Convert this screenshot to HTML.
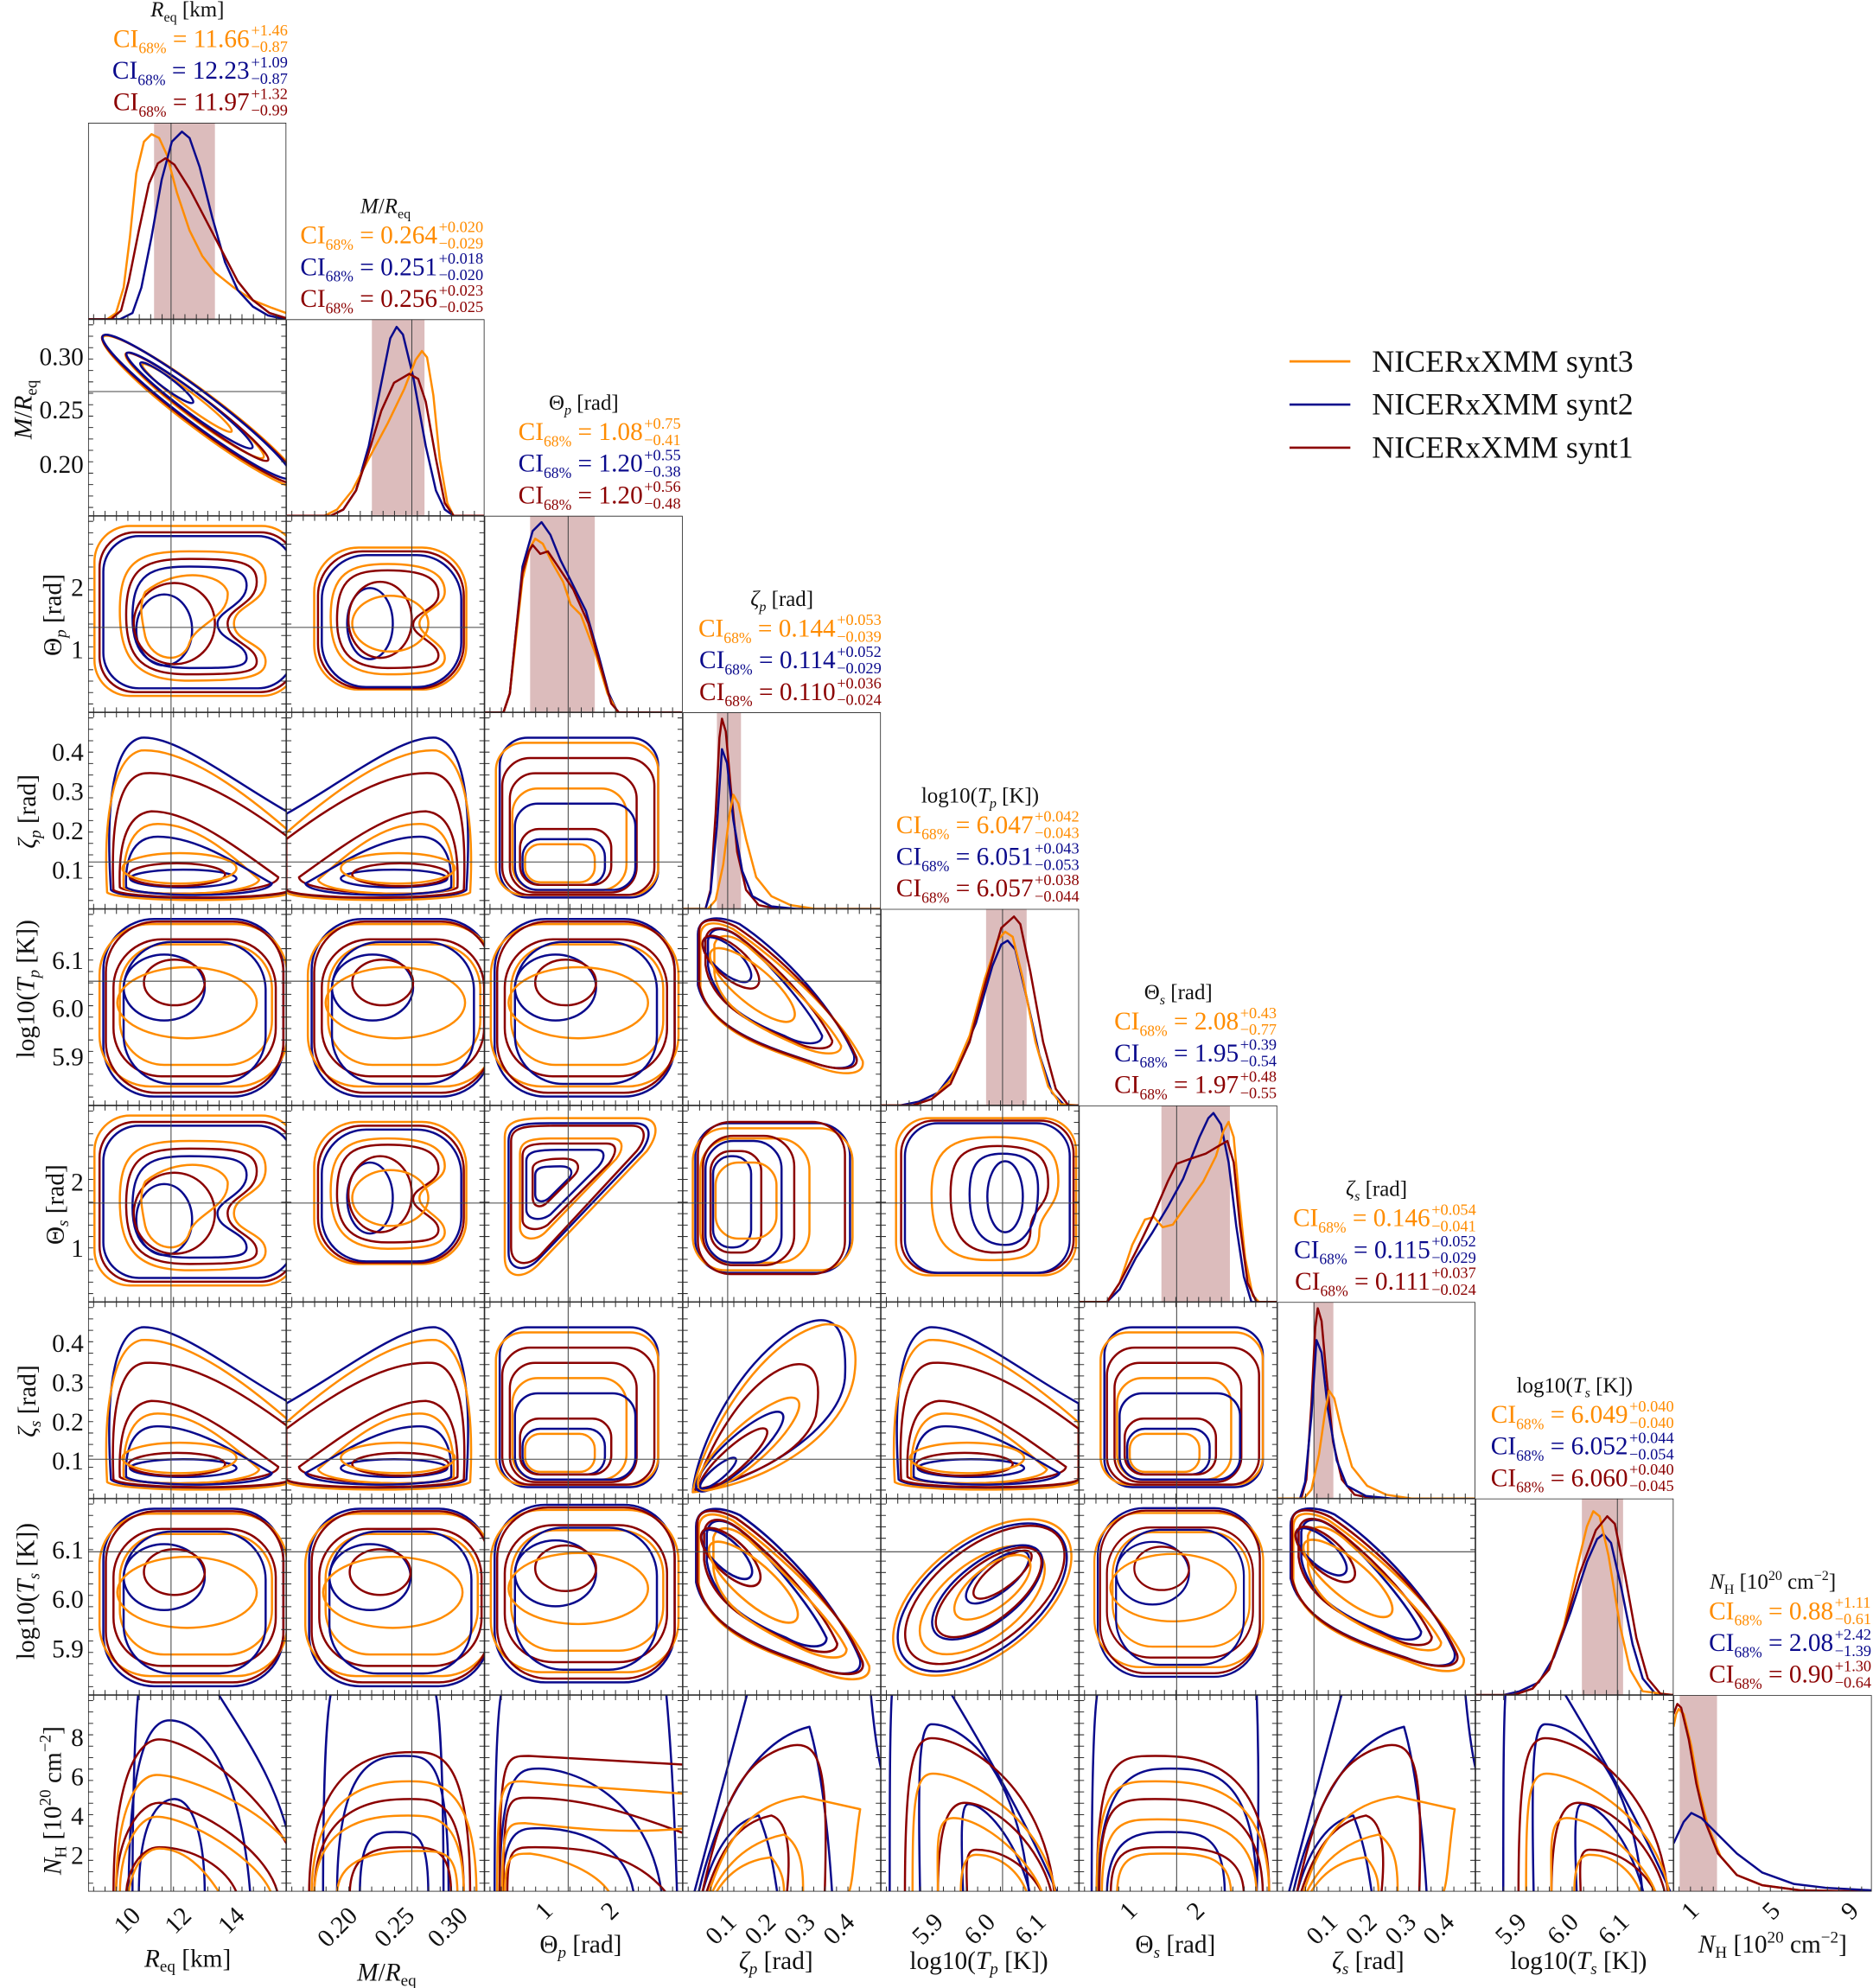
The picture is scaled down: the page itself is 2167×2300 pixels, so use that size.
<!DOCTYPE html>
<html><head><meta charset="utf-8">
<style>
html,body{margin:0;padding:0;background:#fff;}
svg{display:block;}
text{font-family:"Liberation Serif",serif;}
.o,.b,.r{fill:none;stroke-width:1.7;stroke-linejoin:round;}
.o{stroke:#ff8c00}.b{stroke:#0a0a8c}.r{stroke:#8b0000}
.fr{fill:none;stroke:#222;stroke-width:1.1}
.t{stroke:#444;stroke-width:0.7}
.band{fill:#d8b5b5;opacity:0.9}
</style></head><body>
<svg width="2167" height="2300" viewBox="0 0 1477.2 1567.8" xmlns="http://www.w3.org/2000/svg">
<defs>
<g id="tk" stroke="#333" stroke-width="4" stroke-dasharray="0.7 8.3"><line x1="4" y1="153" x2="156" y2="153"/><line x1="4" y1="2" x2="156" y2="2"/><line x1="2" y1="4" x2="2" y2="155"/><line x1="154.3" y1="4" x2="154.3" y2="155"/></g>
<g id="tkb" stroke="#333" stroke-width="4" stroke-dasharray="0.7 8.3"><line x1="4" y1="153" x2="156" y2="153"/></g>
<g id="bean">
<rect class="o" x="5" y="8" width="160" height="134" rx="28"/>
<rect class="r" x="9" y="13" width="155" height="126" rx="28"/>
<rect class="b" x="12" y="16" width="150" height="120" rx="28"/>
<path class="o" d="M25,75 C25,35 40,28 80,28 C120,28 140,30 140,50 C140,70 115,70 115,85 C115,100 140,100 140,115 C140,128 120,130 80,130 C40,130 25,115 25,75Z"/>
<path class="r" d="M30,78 C30,40 45,34 80,34 C118,34 133,36 133,52 C133,70 110,72 110,85 C110,100 133,102 133,115 C133,124 118,125 80,125 C45,125 30,115 30,78Z"/>
<path class="b" d="M35,80 C35,45 50,40 80,40 C112,40 125,42 125,55 C125,70 102,75 102,85 C102,98 125,100 125,112 C125,120 112,120 80,120 C50,120 35,112 35,80Z"/>
<ellipse class="b" cx="60" cy="90" rx="22" ry="28"/>
<ellipse class="r" cx="68" cy="85" rx="32" ry="32"/>
<path class="o" d="M45,60 C70,40 105,45 110,60 C112,80 85,85 80,100 C75,118 50,115 45,95 C42,80 40,70 45,60Z"/>
</g>
<g id="bean2">
<rect class="o" x="22" y="25" width="120" height="112" rx="35"/>
<rect class="r" x="25" y="28" width="115" height="108" rx="35"/>
<rect class="b" x="28" y="31" width="110" height="104" rx="35"/>
<path class="o" d="M35,80 C35,45 50,38 80,38 C110,38 125,45 125,60 C125,72 105,75 105,85 C105,95 125,100 125,112 C125,122 110,125 80,125 C50,125 35,112 35,80Z"/>
<path class="r" d="M40,82 C40,48 54,43 80,43 C106,43 120,48 120,62 C120,74 100,76 100,86 C100,95 120,100 120,110 C120,119 106,120 80,120 C54,120 40,110 40,82Z"/>
<ellipse class="b" cx="66" cy="85" rx="18" ry="28"/>
<ellipse class="r" cx="74" cy="82" rx="25" ry="30"/>
<ellipse class="o" cx="82" cy="85" rx="30" ry="22"/>
</g>
<g id="box">
<rect class="b" x="12" y="8" width="142" height="140" rx="40"/>
<rect class="o" x="9" y="12" width="148" height="128" rx="40"/>
<rect class="r" x="14" y="10" width="140" height="135" rx="40"/>
<rect class="o" x="25" y="28" width="120" height="95" rx="35"/>
<rect class="r" x="20" y="24" width="128" height="108" rx="38"/>
<rect class="b" x="28" y="26" width="112" height="112" rx="38"/>
<ellipse class="b" cx="60" cy="62" rx="32" ry="26"/>
<ellipse class="r" cx="68" cy="58" rx="24" ry="18"/>
<ellipse class="o" cx="78" cy="74" rx="55" ry="28"/>
</g>
<g id="tri">
<path class="b" d="M18,140 C14,80 18,25 42,20 C70,18 115,55 160,80 L160,140 C150,150 28,150 18,140Z"/>
<path class="o" d="M15,142 C12,90 18,35 42,30 C75,28 120,60 160,95 L160,142 C150,150 25,150 15,142Z"/>
<path class="r" d="M20,140 C18,95 22,50 45,48 C80,46 120,70 160,100 L160,140 C150,148 30,148 20,140Z"/>
<path class="r" d="M25,138 C24,110 28,80 50,78 C80,78 115,105 150,130 C148,145 35,146 25,138Z"/>
<path class="o" d="M28,138 C27,115 32,88 55,88 C85,88 110,110 135,132 C130,145 38,146 28,138Z"/>
<path class="b" d="M30,138 C29,118 34,98 55,98 C85,98 115,118 145,135 C140,147 40,146 30,138Z"/>
<ellipse class="b" cx="75" cy="131" rx="42" ry="7"/>
<ellipse class="r" cx="70" cy="128" rx="38" ry="9"/>
<ellipse class="o" cx="72" cy="123" rx="45" ry="12"/>
</g>
<g id="tri2">
<rect class="b" x="12" y="20" width="125" height="126" rx="22"/>
<rect class="o" x="9" y="24" width="128" height="120" rx="22"/>
<rect class="r" x="14" y="36" width="120" height="108" rx="22"/>
<rect class="r" x="20" y="48" width="100" height="94" rx="20"/>
<rect class="o" x="22" y="60" width="90" height="80" rx="20"/>
<rect class="b" x="24" y="72" width="95" height="68" rx="18"/>
<rect class="b" x="30" y="100" width="65" height="36" rx="14"/>
<rect class="r" x="28" y="92" width="72" height="44" rx="15"/>
<rect class="o" x="32" y="104" width="55" height="30" rx="12"/>
</g>
<g id="diag">
<path class="b" d="M12,20 C12,5 30,5 45,12 C80,35 120,80 135,115 C138,128 120,128 100,120 C70,110 20,95 12,60Z"/>
<path class="o" d="M14,22 C14,8 28,10 40,16 C75,40 125,85 142,120 C144,132 125,132 105,124 C75,112 22,100 14,62Z"/>
<path class="r" d="M13,18 C13,6 28,7 42,14 C78,38 122,82 137,117 C140,128 122,128 102,121 C72,111 21,97 13,60Z"/>
<path class="b" d="M20,25 C22,12 35,14 48,25 C75,50 100,80 110,100 C110,108 95,108 80,100 C55,90 25,75 20,45Z"/>
<path class="r" d="M18,24 C20,12 33,13 46,23 C78,48 108,82 118,104 C118,112 102,112 86,104 C58,92 22,76 18,44Z"/>
<path class="o" d="M25,28 C28,18 40,20 52,30 C80,55 115,88 125,108 C125,116 110,116 92,108 C65,96 28,80 25,50Z"/>
<ellipse class="b" cx="35" cy="40" rx="24" ry="10" transform="rotate(42 35 40)"/>
<ellipse class="r" cx="38" cy="42" rx="28" ry="12" transform="rotate(42 38 42)"/>
<ellipse class="o" cx="55" cy="60" rx="42" ry="14" transform="rotate(40 55 60)"/>
</g>
<g id="fan">
<path class="b" d="M8,160 L52,-5 M148,-5 C152,40 156,60 160,70"/>
<path class="b" d="M12,158 C30,80 60,35 100,25 C110,60 115,110 118,158"/>
<path class="b" d="M15,158 C25,120 40,100 60,95 C70,120 72,140 75,158"/>
<path class="r" d="M15,158 C30,90 45,50 85,40 C110,35 115,60 112,158"/>
<path class="r" d="M18,158 C30,120 45,100 70,95 C85,100 85,130 82,158"/>
<path class="o" d="M20,158 C35,110 55,85 95,80 L140,90 C135,120 135,150 130,158"/>
<path class="o" d="M22,158 C35,130 55,115 80,110 C95,120 95,140 95,158"/>
<path class="o" d="M25,158 C35,140 50,130 70,128 C80,140 80,150 80,158"/>
</g>
<g id="nhT">
<path class="b" d="M22,160 C22,80 22,20 24,-5 M68,-5 C95,40 130,100 155,158"/>
<path class="b" d="M46,158 C44,60 45,23 55,23 C80,23 124,58 132,158"/>
<path class="b" d="M80,158 C78,110 78,86 84,86 C100,86 125,121 133,158"/>
<path class="r" d="M34,158 C34,59 40,34 55,34 C80,34 144,69 152,158"/>
<path class="r" d="M60,158 C60,110 66,85 81,85 C106,85 142,120 150,158"/>
<path class="r" d="M83,158 C83,140 80,122 90,122 C115,122 135,140 143,158"/>
<path class="o" d="M40,158 C40,87 41,62 56,62 C81,62 145,97 153,158"/>
<path class="o" d="M60,158 C60,122 57,97 72,97 C97,97 135,132 143,158"/>
<path class="o" d="M78,158 C78,140 80,126 90,126 C110,126 125,140 131,158"/>
</g>
</defs>

<!-- ===== DIAGONAL PANELS ===== -->
<svg x="69.5" y="96.8" width="156.3" height="155" viewBox="0 0 156.3 155">
<rect class="band" x="52" y="0" width="48" height="155"/>
<line class="t" x1="65.4" y1="0" x2="65.4" y2="155"/>
<polyline class="o" points="0,155 15,155 22,150 28,130 33,90 38,40 44,15 50,9 56,12 62,25 70,55 80,85 90,105 100,118 115,130 130,140 145,146 156,150"/>
<polyline class="b" points="0,155 25,155 35,150 42,130 50,90 58,45 66,15 74,7 80,12 88,35 98,75 108,110 118,132 130,145 142,152 156,155"/>
<polyline class="r" points="0,155 18,155 26,148 32,125 40,85 48,48 55,32 61,28 68,33 80,52 92,75 105,100 118,125 130,140 143,150 156,154"/>
<use href="#tkb"/><rect class="fr" width="156.3" height="155"/></svg>
<svg x="225.8" y="251.8" width="156.3" height="155" viewBox="0 0 156.3 155">
<rect class="band" x="67.5" y="0" width="41.5" height="155"/>
<line class="t" x1="99" y1="0" x2="99" y2="155"/>
<polyline class="b" points="0,155 35,155 45,150 55,135 65,100 75,50 82,15 87,6 92,12 100,45 110,100 118,135 125,150 132,155 156,155"/>
<polyline class="o" points="0,155 30,155 40,150 52,135 65,110 80,82 93,55 102,32 107,25 111,30 116,60 121,110 127,145 132,155 156,155"/>
<polyline class="r" points="0,155 35,155 45,150 55,135 65,105 75,72 85,50 97,43 104,47 110,65 118,110 125,145 132,155 156,155"/>
<use href="#tkb"/><rect class="fr" width="156.3" height="155"/></svg>
<svg x="382.1" y="406.8" width="156.3" height="155" viewBox="0 0 156.3 155">
<rect class="band" x="36" y="0" width="51" height="155"/>
<line class="t" x1="66" y1="0" x2="66" y2="155"/>
<polyline class="b" points="0,155 15,155 20,140 25,90 30,40 38,12 45,5 52,15 60,35 70,55 80,75 90,110 98,140 105,155 156,155"/>
<polyline class="o" points="0,155 15,155 20,140 25,95 30,50 36,25 40,18 46,22 54,38 62,52 68,70 76,78 88,110 97,140 105,155 156,155"/>
<polyline class="r" points="0,155 15,155 20,140 25,90 30,45 35,28 38,23 44,30 50,28 58,40 70,58 82,85 92,120 100,148 106,155 156,155"/>
<use href="#tkb"/><rect class="fr" width="156.3" height="155"/></svg>
<svg x="538.4" y="561.8" width="156.3" height="155" viewBox="0 0 156.3 155">
<rect class="band" x="27" y="0" width="19" height="155"/>
<line class="t" x1="35.5" y1="0" x2="35.5" y2="155"/>
<polyline class="r" points="0,155 18,155 22,140 26,80 29,20 31,5 34,15 38,60 43,110 50,140 60,152 75,155 156,155"/>
<polyline class="b" points="0,155 18,155 22,142 27,90 31,29 35,40 40,85 47,125 55,145 70,153 90,155 156,155"/>
<polyline class="o" points="0,155 20,155 26,148 32,120 37,80 40,65 44,72 50,100 58,130 70,145 85,152 105,155 156,155"/>
<use href="#tkb"/><rect class="fr" width="156.3" height="155"/></svg>
<svg x="694.7" y="716.8" width="156.3" height="155" viewBox="0 0 156.3 155">
<rect class="band" x="83" y="0" width="32" height="155"/>
<line class="t" x1="96" y1="0" x2="96" y2="155"/>
<polyline class="b" points="0,155 15,155 30,152 45,145 60,125 75,90 88,45 95,28 100,25 106,32 115,70 125,115 135,145 145,155 156,155"/>
<polyline class="o" points="0,155 25,155 40,150 55,135 70,100 82,55 92,25 98,18 104,22 112,55 122,105 132,140 142,154 156,155"/>
<polyline class="r" points="0,155 25,155 40,150 55,138 70,105 82,60 95,15 105,6 110,12 118,50 128,105 138,142 148,155 156,155"/>
<use href="#tkb"/><rect class="fr" width="156.3" height="155"/></svg>
<svg x="851.0" y="871.8" width="156.3" height="155" viewBox="0 0 156.3 155">
<rect class="band" x="65" y="0" width="54" height="155"/>
<line class="t" x1="77" y1="0" x2="77" y2="155"/>
<polyline class="b" points="0,155 22,155 32,145 45,120 58,100 70,80 82,58 95,25 102,10 106,6 112,15 118,45 124,95 130,135 136,155 156,155"/>
<polyline class="o" points="0,155 22,155 32,140 42,110 52,90 59,88 66,96 74,94 85,78 98,60 108,40 114,20 118,13 122,25 126,70 131,120 137,150 142,155 156,155"/>
<polyline class="r" points="0,155 22,155 32,140 45,115 58,88 70,60 77,46 88,42 100,38 110,32 117,28 122,45 127,95 133,140 140,155 156,155"/>
<use href="#tkb"/><rect class="fr" width="156.3" height="155"/></svg>
<svg x="1007.3" y="1026.8" width="156.3" height="155" viewBox="0 0 156.3 155">
<rect class="band" x="28.6" y="0" width="15.7" height="155"/>
<line class="t" x1="29" y1="0" x2="29" y2="155"/>
<polyline class="r" points="0,155 19,155 23,140 27,80 30,20 32,5 35,15 39,60 44,110 51,140 61,152 76,155 156,155"/>
<polyline class="b" points="0,155 18,155 22,142 27,90 31,30 35,40 40,85 47,125 55,145 70,153 90,155 156,155"/>
<polyline class="o" points="0,155 21,155 27,148 33,120 38,85 41,70 45,76 51,102 59,130 71,145 86,152 106,155 156,155"/>
<use href="#tkb"/><rect class="fr" width="156.3" height="155"/></svg>
<svg x="1163.6" y="1181.8" width="156.3" height="155" viewBox="0 0 156.3 155">
<rect class="band" x="84" y="0" width="32.5" height="155"/>
<line class="t" x1="112" y1="0" x2="112" y2="155"/>
<polyline class="b" points="0,155 22,155 35,152 50,145 62,125 75,90 88,50 96,32 101,28 107,35 115,70 124,115 132,142 142,154 156,155"/>
<polyline class="o" points="0,155 30,155 45,150 58,135 70,100 80,55 88,22 93,10 98,14 105,45 114,100 122,135 132,152 156,155"/>
<polyline class="r" points="0,155 30,155 45,150 58,135 70,102 82,60 95,25 104,14 110,20 118,60 127,110 136,142 146,154 156,155"/>
<use href="#tkb"/><rect class="fr" width="156.3" height="155"/></svg>
<svg x="1319.9" y="1336.8" width="156.3" height="155" viewBox="0 0 156.3 155">
<rect class="band" x="4.8" y="0" width="29.5" height="155"/>
<polyline class="o" points="0,25 2,15 4,11 8,15 14,40 20,75 27,103 37,127 50,142 70,150 100,154 156,155"/>
<polyline class="r" points="0,15 3,7 6,10 12,35 18,70 25,100 35,125 50,142 70,150 100,154 156,155"/>
<polyline class="b" points="0,117 8,100 14,93 22,97 35,110 50,125 70,140 95,149 120,152 156,154"/>
<use href="#tkb"/><rect class="fr" width="156.3" height="155"/></svg>

<!-- ===== 2D PANELS ===== -->
<svg x="69.5" y="251.8" width="156.3" height="155" viewBox="0 0 156.3 155">
<ellipse class="o" cx="90" cy="73" rx="98" ry="14" transform="rotate(37 90 73)"/>
<ellipse class="o" cx="84" cy="68" rx="68" ry="9" transform="rotate(37 84 68)"/>
<ellipse class="o" cx="78" cy="62" rx="44" ry="5.5" transform="rotate(37 78 62)"/>
<ellipse class="r" cx="88" cy="71" rx="96" ry="13" transform="rotate(37 88 71)"/>
<ellipse class="r" cx="86" cy="69" rx="70" ry="8.5" transform="rotate(37 86 69)"/>
<ellipse class="b" cx="86" cy="69" rx="93" ry="12.5" transform="rotate(37 86 69)"/>
<ellipse class="b" cx="80" cy="64" rx="62" ry="8" transform="rotate(37 80 64)"/>
<ellipse class="b" cx="62" cy="50" rx="26" ry="4.5" transform="rotate(37 62 50)"/>
<line class="t" x1="65.4" y1="0" x2="65.4" y2="155"/><line class="t" x1="0" y1="57" x2="156.3" y2="57"/>
<use href="#tk"/><rect class="fr" width="156.3" height="155"/></svg>
<svg x="69.5" y="406.8" width="156.3" height="155" viewBox="0 0 156.3 155"><use href="#bean"/>
<line class="t" x1="65.4" y1="0" x2="65.4" y2="155"/><line class="t" x1="0" y1="88" x2="156.3" y2="88"/><use href="#tk"/><rect class="fr" width="156.3" height="155"/></svg>
<svg x="225.8" y="406.8" width="156.3" height="155" viewBox="0 0 156.3 155"><use href="#bean2"/>
<line class="t" x1="99" y1="0" x2="99" y2="155"/><line class="t" x1="0" y1="88" x2="156.3" y2="88"/><use href="#tk"/><rect class="fr" width="156.3" height="155"/></svg>
<svg x="69.5" y="561.8" width="156.3" height="155" viewBox="0 0 156.3 155"><use href="#tri"/>
<line class="t" x1="65.4" y1="0" x2="65.4" y2="155"/><line class="t" x1="0" y1="118" x2="156.3" y2="118"/><use href="#tk"/><rect class="fr" width="156.3" height="155"/></svg>
<svg x="225.8" y="561.8" width="156.3" height="155" viewBox="0 0 156.3 155"><use href="#tri" transform="translate(160,0) scale(-1,1)"/>
<line class="t" x1="99" y1="0" x2="99" y2="155"/><line class="t" x1="0" y1="118" x2="156.3" y2="118"/><use href="#tk"/><rect class="fr" width="156.3" height="155"/></svg>
<svg x="382.1" y="561.8" width="156.3" height="155" viewBox="0 0 156.3 155"><use href="#tri2"/>
<line class="t" x1="66" y1="0" x2="66" y2="155"/><line class="t" x1="0" y1="118" x2="156.3" y2="118"/><use href="#tk"/><rect class="fr" width="156.3" height="155"/></svg>
<svg x="69.5" y="716.8" width="156.3" height="155" viewBox="0 0 156.3 155"><use href="#box"/>
<line class="t" x1="65.4" y1="0" x2="65.4" y2="155"/><line class="t" x1="0" y1="57" x2="156.3" y2="57"/><use href="#tk"/><rect class="fr" width="156.3" height="155"/></svg>
<svg x="225.8" y="716.8" width="156.3" height="155" viewBox="0 0 156.3 155"><use href="#box" transform="translate(8,0)"/>
<line class="t" x1="99" y1="0" x2="99" y2="155"/><line class="t" x1="0" y1="57" x2="156.3" y2="57"/><use href="#tk"/><rect class="fr" width="156.3" height="155"/></svg>
<svg x="382.1" y="716.8" width="156.3" height="155" viewBox="0 0 156.3 155"><use href="#box" transform="translate(-4,0)"/>
<line class="t" x1="66" y1="0" x2="66" y2="155"/><line class="t" x1="0" y1="57" x2="156.3" y2="57"/><use href="#tk"/><rect class="fr" width="156.3" height="155"/></svg>
<svg x="538.4" y="716.8" width="156.3" height="155" viewBox="0 0 156.3 155"><use href="#diag"/>
<line class="t" x1="35.5" y1="0" x2="35.5" y2="155"/><line class="t" x1="0" y1="57" x2="156.3" y2="57"/><use href="#tk"/><rect class="fr" width="156.3" height="155"/></svg>
<svg x="69.5" y="871.8" width="156.3" height="155" viewBox="0 0 156.3 155"><use href="#bean"/>
<line class="t" x1="65.4" y1="0" x2="65.4" y2="155"/><line class="t" x1="0" y1="77" x2="156.3" y2="77"/><use href="#tk"/><rect class="fr" width="156.3" height="155"/></svg>
<svg x="225.8" y="871.8" width="156.3" height="155" viewBox="0 0 156.3 155"><use href="#bean2" transform="translate(0,-12)"/>
<line class="t" x1="99" y1="0" x2="99" y2="155"/><line class="t" x1="0" y1="77" x2="156.3" y2="77"/><use href="#tk"/><rect class="fr" width="156.3" height="155"/></svg>
<svg x="382.1" y="871.8" width="156.3" height="155" viewBox="0 0 156.3 155">
<path class="o" d="M16,25 C16,12 28,10 50,10 L122,10 C138,10 138,22 128,36 L42,126 C30,138 16,136 16,120Z"/>
<path class="b" d="M19,28 C19,15 30,14 52,14 L118,14 C132,14 132,24 124,36 L42,122 C32,132 19,130 19,116Z"/>
<path class="r" d="M21,28 C21,17 32,16 54,16 L116,16 C128,16 128,26 120,36 L44,118 C34,128 21,126 21,112Z"/>
<path class="o" d="M28,38 C28,26 40,26 60,26 L100,26 C110,26 110,34 104,42 L48,100 C40,108 28,106 28,96Z"/>
<path class="r" d="M30,40 C30,30 40,30 58,30 L96,30 C106,30 104,38 98,46 L50,94 C42,100 30,98 30,90Z"/>
<path class="b" d="M33,44 C33,36 42,35 58,35 L88,35 C96,35 95,42 90,48 L52,86 C44,92 33,90 33,82Z"/>
<path class="b" d="M40,55 C40,48 48,48 60,48 C70,48 70,54 66,58 L52,72 C46,78 40,76 40,70Z"/>
<path class="r" d="M38,50 C38,44 48,42 62,42 C76,42 76,50 70,56 L50,76 C44,82 38,80 38,72Z"/>
<line class="t" x1="66" y1="0" x2="66" y2="155"/><line class="t" x1="0" y1="77" x2="156.3" y2="77"/><use href="#tk"/><rect class="fr" width="156.3" height="155"/></svg>
<svg x="538.4" y="871.8" width="156.3" height="155" viewBox="0 0 156.3 155">
<rect class="b" x="10" y="14" width="122" height="118" rx="26"/>
<rect class="o" x="8" y="18" width="126" height="112" rx="26"/>
<rect class="r" x="12" y="13" width="116" height="120" rx="26"/>
<rect class="o" x="14" y="26" width="86" height="98" rx="25"/>
<rect class="r" x="16" y="24" width="72" height="102" rx="24"/>
<rect class="b" x="18" y="28" width="60" height="96" rx="22"/>
<rect class="b" x="24" y="40" width="30" height="72" rx="14"/>
<rect class="r" x="22" y="36" width="40" height="80" rx="16"/>
<rect class="o" x="26" y="45" width="48" height="60" rx="18"/>
<line class="t" x1="35.5" y1="0" x2="35.5" y2="155"/><line class="t" x1="0" y1="77" x2="156.3" y2="77"/><use href="#tk"/><rect class="fr" width="156.3" height="155"/></svg>
<svg x="694.7" y="871.8" width="156.3" height="155" viewBox="0 0 156.3 155">
<rect class="o" x="12" y="10" width="142" height="124" rx="26"/>
<rect class="r" x="16" y="12" width="136" height="120" rx="26"/>
<rect class="b" x="19" y="14" width="130" height="118" rx="26"/>
<path class="o" d="M40,70 C40,35 55,25 90,25 C130,25 140,35 140,60 C140,80 125,85 125,100 C125,120 110,122 85,122 C55,122 40,110 40,70Z"/>
<path class="r" d="M55,70 C55,40 65,32 92,32 C125,32 132,42 132,62 C132,80 118,82 118,98 C118,114 108,116 90,116 C65,116 55,100 55,70Z"/>
<path class="b" d="M70,70 C70,45 78,38 96,38 C118,38 124,48 124,66 C124,90 116,110 98,110 C78,110 70,95 70,70Z"/>
<ellipse class="b" cx="98" cy="72" rx="14" ry="28"/>
<line class="t" x1="96" y1="0" x2="96" y2="155"/><line class="t" x1="0" y1="77" x2="156.3" y2="77"/><use href="#tk"/><rect class="fr" width="156.3" height="155"/></svg>
<svg x="69.5" y="1026.8" width="156.3" height="155" viewBox="0 0 156.3 155"><use href="#tri"/>
<line class="t" x1="65.4" y1="0" x2="65.4" y2="155"/><line class="t" x1="0" y1="124" x2="156.3" y2="124"/><use href="#tk"/><rect class="fr" width="156.3" height="155"/></svg>
<svg x="225.8" y="1026.8" width="156.3" height="155" viewBox="0 0 156.3 155"><use href="#tri" transform="translate(160,0) scale(-1,1)"/>
<line class="t" x1="99" y1="0" x2="99" y2="155"/><line class="t" x1="0" y1="124" x2="156.3" y2="124"/><use href="#tk"/><rect class="fr" width="156.3" height="155"/></svg>
<svg x="382.1" y="1026.8" width="156.3" height="155" viewBox="0 0 156.3 155"><use href="#tri2"/>
<line class="t" x1="66" y1="0" x2="66" y2="155"/><line class="t" x1="0" y1="124" x2="156.3" y2="124"/><use href="#tk"/><rect class="fr" width="156.3" height="155"/></svg>
<svg x="538.4" y="1026.8" width="156.3" height="155" viewBox="0 0 156.3 155">
<path class="b" d="M8,150 C10,120 40,50 90,20 C120,5 130,20 128,60 C125,100 60,140 8,150Z"/>
<path class="o" d="M8,150 C15,110 60,30 110,18 C130,15 140,30 135,60 C125,110 60,145 8,150Z"/>
<path class="r" d="M10,148 C20,115 50,60 85,50 C105,45 110,60 105,90 C95,120 50,140 10,148Z"/>
<ellipse class="b" cx="45" cy="118" rx="45" ry="12" transform="rotate(-42 45 118)"/>
<ellipse class="r" cx="40" cy="124" rx="35" ry="9" transform="rotate(-42 40 124)"/>
<ellipse class="o" cx="52" cy="112" rx="52" ry="15" transform="rotate(-42 52 112)"/>
<ellipse class="b" cx="28" cy="135" rx="18" ry="5" transform="rotate(-40 28 135)"/>
<line class="t" x1="35.5" y1="0" x2="35.5" y2="155"/><line class="t" x1="0" y1="124" x2="156.3" y2="124"/><use href="#tk"/><rect class="fr" width="156.3" height="155"/></svg>
<svg x="694.7" y="1026.8" width="156.3" height="155" viewBox="0 0 156.3 155"><use href="#tri" transform="translate(-4,0)"/>
<line class="t" x1="96" y1="0" x2="96" y2="155"/><line class="t" x1="0" y1="124" x2="156.3" y2="124"/><use href="#tk"/><rect class="fr" width="156.3" height="155"/></svg>
<svg x="851.0" y="1026.8" width="156.3" height="155" viewBox="0 0 156.3 155"><use href="#tri2" transform="translate(8,0)"/>
<line class="t" x1="77" y1="0" x2="77" y2="155"/><line class="t" x1="0" y1="124" x2="156.3" y2="124"/><use href="#tk"/><rect class="fr" width="156.3" height="155"/></svg>
<svg x="69.5" y="1181.8" width="156.3" height="155" viewBox="0 0 156.3 155"><use href="#box"/>
<line class="t" x1="65.4" y1="0" x2="65.4" y2="155"/><line class="t" x1="0" y1="42" x2="156.3" y2="42"/><use href="#tk"/><rect class="fr" width="156.3" height="155"/></svg>
<svg x="225.8" y="1181.8" width="156.3" height="155" viewBox="0 0 156.3 155"><use href="#box" transform="translate(6,0)"/>
<line class="t" x1="99" y1="0" x2="99" y2="155"/><line class="t" x1="0" y1="42" x2="156.3" y2="42"/><use href="#tk"/><rect class="fr" width="156.3" height="155"/></svg>
<svg x="382.1" y="1181.8" width="156.3" height="155" viewBox="0 0 156.3 155"><use href="#box" transform="translate(-4,-3)"/>
<line class="t" x1="66" y1="0" x2="66" y2="155"/><line class="t" x1="0" y1="42" x2="156.3" y2="42"/><use href="#tk"/><rect class="fr" width="156.3" height="155"/></svg>
<svg x="538.4" y="1181.8" width="156.3" height="155" viewBox="0 0 156.3 155"><use href="#diag" transform="translate(-2,0) scale(1.05,1.1)"/>
<line class="t" x1="35.5" y1="0" x2="35.5" y2="155"/><line class="t" x1="0" y1="42" x2="156.3" y2="42"/><use href="#tk"/><rect class="fr" width="156.3" height="155"/></svg>
<svg x="694.7" y="1181.8" width="156.3" height="155" viewBox="0 0 156.3 155">
<ellipse class="o" cx="80" cy="78" rx="82" ry="45" transform="rotate(-38 80 78)"/>
<ellipse class="b" cx="80" cy="78" rx="78" ry="42" transform="rotate(-38 80 78)"/>
<ellipse class="r" cx="82" cy="76" rx="74" ry="38" transform="rotate(-38 82 76)"/>
<ellipse class="o" cx="80" cy="80" rx="58" ry="30" transform="rotate(-38 80 80)"/>
<ellipse class="b" cx="84" cy="74" rx="52" ry="24" transform="rotate(-38 84 74)"/>
<ellipse class="r" cx="85" cy="74" rx="50" ry="22" transform="rotate(-38 85 74)"/>
<ellipse class="b" cx="92" cy="62" rx="30" ry="12" transform="rotate(-38 92 62)"/>
<ellipse class="r" cx="96" cy="60" rx="28" ry="10" transform="rotate(-38 96 60)"/>
<ellipse class="o" cx="88" cy="70" rx="36" ry="16" transform="rotate(-38 88 70)"/>
<line class="t" x1="96" y1="0" x2="96" y2="155"/><line class="t" x1="0" y1="42" x2="156.3" y2="42"/><use href="#tk"/><rect class="fr" width="156.3" height="155"/></svg>
<svg x="851.0" y="1181.8" width="156.3" height="155" viewBox="0 0 156.3 155"><use href="#box" transform="translate(4,0) scale(0.9,0.95)"/>
<line class="t" x1="77" y1="0" x2="77" y2="155"/><line class="t" x1="0" y1="42" x2="156.3" y2="42"/><use href="#tk"/><rect class="fr" width="156.3" height="155"/></svg>
<svg x="1007.3" y="1181.8" width="156.3" height="155" viewBox="0 0 156.3 155"><use href="#diag" transform="translate(-2,0) scale(1.05,1.05)"/>
<line class="t" x1="29" y1="0" x2="29" y2="155"/><line class="t" x1="0" y1="42" x2="156.3" y2="42"/><use href="#tk"/><rect class="fr" width="156.3" height="155"/></svg>
<svg x="69.5" y="1336.8" width="156.3" height="155" viewBox="0 0 156.3 155">
<path class="b" d="M35,160 C35,80 37,20 40,-5 M100,-5 C125,35 150,70 160,120"/>
<path class="b" d="M32,158 C32,45 49,20 64,20 C89,20 120,55 128,158"/>
<path class="b" d="M40,158 C40,100 55,82 68,82 C82,82 92,110 92,158"/>
<path class="r" d="M20,158 C20,60 41,35 56,35 C81,35 150,80 175,158"/>
<path class="r" d="M22,158 C22,110 41,85 56,85 C81,85 142,120 150,158"/>
<path class="r" d="M30,158 C30,140 41,120 56,120 C81,120 110,135 118,158"/>
<path class="o" d="M22,158 C22,88 39,63 54,63 C79,63 170,98 178,158"/>
<path class="o" d="M25,158 C25,121 39,96 54,96 C79,96 137,131 145,158"/>
<path class="o" d="M32,158 C32,146 41,121 56,121 C81,121 97,146 105,158"/>
<line class="t" x1="65.4" y1="0" x2="65.4" y2="155"/><use href="#tk"/><rect class="fr" width="156.3" height="155"/></svg>
<svg x="225.8" y="1336.8" width="156.3" height="155" viewBox="0 0 156.3 155">
<path class="b" d="M29,160 C29,60 32,10 36,-5 M124,160 C124,60 121,10 117,-5"/>
<path class="b" d="M40,158 C40,48 73,48 93,48 C113,48 128,48 128,158"/>
<path class="b" d="M58,158 C58,108 70,108 86,108 C102,108 112,108 112,158"/>
<path class="r" d="M18,158 C18,45 80,45 100,45 C120,45 145,45 145,158"/>
<path class="r" d="M22,158 C22,82 78,82 98,82 C118,82 140,82 140,158"/>
<path class="r" d="M50,158 C50,120 76,120 96,120 C116,120 130,120 130,158"/>
<path class="o" d="M20,158 C20,68 77,68 97,68 C117,68 150,68 150,158"/>
<path class="o" d="M22,158 C22,95 76,95 96,95 C116,95 140,95 140,158"/>
<path class="o" d="M40,158 C40,123 84,123 104,123 C124,123 135,123 135,158"/>
<line class="t" x1="99" y1="0" x2="99" y2="155"/><use href="#tk"/><rect class="fr" width="156.3" height="155"/></svg>
<svg x="382.1" y="1336.8" width="156.3" height="155" viewBox="0 0 156.3 155">
<path class="b" d="M8,160 C8,60 10,10 14,-5 M143,-5 C148,50 150,100 152,160"/>
<path class="b" d="M12,158 C12,58 28,58 43,58 C70,58 130,80 140,158"/>
<path class="b" d="M14,158 C14,105 28,105 43,105 C70,105 112,115 118,158"/>
<path class="r" d="M12,158 C12,48 15,48 35,48 L160,55"/>
<path class="r" d="M15,158 C15,81 18,81 35,81 C80,81 120,95 160,110"/>
<path class="r" d="M18,158 C18,120 22,120 40,120 C80,120 120,125 145,158"/>
<path class="o" d="M10,158 C10,68 14,68 30,68 C70,72 120,75 160,78"/>
<path class="o" d="M14,158 C14,101 18,101 32,101 C70,105 110,110 160,105"/>
<path class="o" d="M16,158 C16,125 22,125 36,125 C60,128 90,140 100,158"/>
<line class="t" x1="66" y1="0" x2="66" y2="155"/><use href="#tk"/><rect class="fr" width="156.3" height="155"/></svg>
<svg x="538.4" y="1336.8" width="156.3" height="155" viewBox="0 0 156.3 155"><use href="#fan"/>
<line class="t" x1="35.5" y1="0" x2="35.5" y2="155"/><use href="#tk"/><rect class="fr" width="156.3" height="155"/></svg>
<svg x="694.7" y="1336.8" width="156.3" height="155" viewBox="0 0 156.3 155"><use href="#nhT" transform="translate(-15,0)"/>
<line class="t" x1="96" y1="0" x2="96" y2="155"/><use href="#tk"/><rect class="fr" width="156.3" height="155"/></svg>
<svg x="851.0" y="1336.8" width="156.3" height="155" viewBox="0 0 156.3 155">
<path class="b" d="M10,160 C10,60 12,10 15,-5 M140,-5 C142,50 142,100 140,160"/>
<path class="b" d="M15,158 C15,58 50,58 72,58 C100,58 140,58 140,158"/>
<path class="b" d="M22,158 C22,108 50,108 70,108 C95,108 115,108 115,158"/>
<path class="r" d="M14,158 C14,48 30,48 60,48 C90,48 150,48 150,158"/>
<path class="r" d="M16,158 C16,82 30,82 60,82 C90,82 145,82 145,158"/>
<path class="r" d="M25,158 C25,120 40,120 65,120 C95,120 130,120 130,158"/>
<path class="o" d="M14,158 C14,68 30,68 60,68 C90,68 150,68 150,158"/>
<path class="o" d="M18,158 C18,98 35,98 62,98 C90,98 140,98 140,158"/>
<path class="o" d="M30,158 C30,125 45,125 68,125 C95,125 120,125 120,158"/>
<line class="t" x1="77" y1="0" x2="77" y2="155"/><use href="#tk"/><rect class="fr" width="156.3" height="155"/></svg>
<svg x="1007.3" y="1336.8" width="156.3" height="155" viewBox="0 0 156.3 155"><use href="#fan"/>
<line class="t" x1="29" y1="0" x2="29" y2="155"/><use href="#tk"/><rect class="fr" width="156.3" height="155"/></svg>
<svg x="1163.6" y="1336.8" width="156.3" height="155" viewBox="0 0 156.3 155"><use href="#nhT"/>
<line class="t" x1="112" y1="0" x2="112" y2="155"/><use href="#tk"/><rect class="fr" width="156.3" height="155"/></svg>

<!-- ===== TITLES & CI ===== -->
<g font-size="17" text-anchor="middle" fill="#111">
<text x="147.8" y="13"><tspan font-style="italic">R</tspan><tspan font-size="11" dy="4">eq</tspan><tspan dy="-4"> [km]</tspan></text>
<text x="304.1" y="168"><tspan font-style="italic">M</tspan>/<tspan font-style="italic">R</tspan><tspan font-size="11" dy="4">eq</tspan></text>
<text x="460.4" y="323">Θ<tspan font-size="11" dy="4" font-style="italic">p</tspan><tspan dy="-4"> [rad]</tspan></text>
<text x="616.7" y="478"><tspan font-style="italic">ζ</tspan><tspan font-size="11" dy="4" font-style="italic">p</tspan><tspan dy="-4"> [rad]</tspan></text>
<text x="773.0" y="633">log10(<tspan font-style="italic">T</tspan><tspan font-size="11" dy="4" font-style="italic">p</tspan><tspan dy="-4"> [K])</tspan></text>
<text x="929.3" y="788">Θ<tspan font-size="11" dy="4" font-style="italic">s</tspan><tspan dy="-4"> [rad]</tspan></text>
<text x="1085.6" y="943"><tspan font-style="italic">ζ</tspan><tspan font-size="11" dy="4" font-style="italic">s</tspan><tspan dy="-4"> [rad]</tspan></text>
<text x="1241.9" y="1098">log10(<tspan font-style="italic">T</tspan><tspan font-size="11" dy="4" font-style="italic">s</tspan><tspan dy="-4"> [K])</tspan></text>
<text x="1398.2" y="1253"><tspan font-style="italic">N</tspan><tspan font-size="11" dy="4">H</tspan><tspan dy="-4"> [10</tspan><tspan font-size="11" dy="-7">20</tspan><tspan dy="7"> cm</tspan><tspan font-size="11" dy="-7">−2</tspan><tspan dy="7">]</tspan></text>
</g>
<g font-size="20" text-anchor="end">
<g fill="#ff8c00"><text x="196.8" y="37">CI<tspan font-size="12" dy="5">68%</tspan><tspan dy="-5"> = 11.66</tspan></text></g>
<g fill="#0a0a8c"><text x="196.8" y="62">CI<tspan font-size="12" dy="5">68%</tspan><tspan dy="-5"> = 12.23</tspan></text></g>
<g fill="#8b0000"><text x="196.8" y="87">CI<tspan font-size="12" dy="5">68%</tspan><tspan dy="-5"> = 11.97</tspan></text></g>
<g fill="#ff8c00"><text x="345" y="192">CI<tspan font-size="12" dy="5">68%</tspan><tspan dy="-5"> = 0.264</tspan></text></g>
<g fill="#0a0a8c"><text x="345" y="217">CI<tspan font-size="12" dy="5">68%</tspan><tspan dy="-5"> = 0.251</tspan></text></g>
<g fill="#8b0000"><text x="345" y="242">CI<tspan font-size="12" dy="5">68%</tspan><tspan dy="-5"> = 0.256</tspan></text></g>
<g fill="#ff8c00"><text x="507" y="347">CI<tspan font-size="12" dy="5">68%</tspan><tspan dy="-5"> = 1.08</tspan></text></g>
<g fill="#0a0a8c"><text x="507" y="372">CI<tspan font-size="12" dy="5">68%</tspan><tspan dy="-5"> = 1.20</tspan></text></g>
<g fill="#8b0000"><text x="507" y="397">CI<tspan font-size="12" dy="5">68%</tspan><tspan dy="-5"> = 1.20</tspan></text></g>
<g fill="#ff8c00"><text x="659" y="502">CI<tspan font-size="12" dy="5">68%</tspan><tspan dy="-5"> = 0.144</tspan></text></g>
<g fill="#0a0a8c"><text x="659" y="527">CI<tspan font-size="12" dy="5">68%</tspan><tspan dy="-5"> = 0.114</tspan></text></g>
<g fill="#8b0000"><text x="659" y="552">CI<tspan font-size="12" dy="5">68%</tspan><tspan dy="-5"> = 0.110</tspan></text></g>
<g fill="#ff8c00"><text x="815" y="657">CI<tspan font-size="12" dy="5">68%</tspan><tspan dy="-5"> = 6.047</tspan></text></g>
<g fill="#0a0a8c"><text x="815" y="682">CI<tspan font-size="12" dy="5">68%</tspan><tspan dy="-5"> = 6.051</tspan></text></g>
<g fill="#8b0000"><text x="815" y="707">CI<tspan font-size="12" dy="5">68%</tspan><tspan dy="-5"> = 6.057</tspan></text></g>
<g fill="#ff8c00"><text x="977" y="812">CI<tspan font-size="12" dy="5">68%</tspan><tspan dy="-5"> = 2.08</tspan></text></g>
<g fill="#0a0a8c"><text x="977" y="837">CI<tspan font-size="12" dy="5">68%</tspan><tspan dy="-5"> = 1.95</tspan></text></g>
<g fill="#8b0000"><text x="977" y="862">CI<tspan font-size="12" dy="5">68%</tspan><tspan dy="-5"> = 1.97</tspan></text></g>
<g fill="#ff8c00"><text x="1128" y="967">CI<tspan font-size="12" dy="5">68%</tspan><tspan dy="-5"> = 0.146</tspan></text></g>
<g fill="#0a0a8c"><text x="1128" y="992">CI<tspan font-size="12" dy="5">68%</tspan><tspan dy="-5"> = 0.115</tspan></text></g>
<g fill="#8b0000"><text x="1128" y="1017">CI<tspan font-size="12" dy="5">68%</tspan><tspan dy="-5"> = 0.111</tspan></text></g>
<g fill="#ff8c00"><text x="1284" y="1122">CI<tspan font-size="12" dy="5">68%</tspan><tspan dy="-5"> = 6.049</tspan></text></g>
<g fill="#0a0a8c"><text x="1284" y="1147">CI<tspan font-size="12" dy="5">68%</tspan><tspan dy="-5"> = 6.052</tspan></text></g>
<g fill="#8b0000"><text x="1284" y="1172">CI<tspan font-size="12" dy="5">68%</tspan><tspan dy="-5"> = 6.060</tspan></text></g>
<g fill="#ff8c00"><text x="1446" y="1277">CI<tspan font-size="12" dy="5">68%</tspan><tspan dy="-5"> = 0.88</tspan></text></g>
<g fill="#0a0a8c"><text x="1446" y="1302">CI<tspan font-size="12" dy="5">68%</tspan><tspan dy="-5"> = 2.08</tspan></text></g>
<g fill="#8b0000"><text x="1446" y="1327">CI<tspan font-size="12" dy="5">68%</tspan><tspan dy="-5"> = 0.90</tspan></text></g>
</g>
<g font-size="12.5">
<g fill="#ff8c00"><text x="198" y="28">+1.46</text><text x="198" y="41">−0.87</text>
<text x="346" y="183">+0.020</text><text x="346" y="196">−0.029</text>
<text x="508" y="338">+0.75</text><text x="508" y="351">−0.41</text>
<text x="660" y="493">+0.053</text><text x="660" y="506">−0.039</text>
<text x="816" y="648">+0.042</text><text x="816" y="661">−0.043</text>
<text x="978" y="803">+0.43</text><text x="978" y="816">−0.77</text>
<text x="1129" y="958">+0.054</text><text x="1129" y="971">−0.041</text>
<text x="1285" y="1113">+0.040</text><text x="1285" y="1126">−0.040</text>
<text x="1447" y="1268">+1.11</text><text x="1447" y="1281">−0.61</text></g>
<g fill="#0a0a8c"><text x="198" y="53">+1.09</text><text x="198" y="66">−0.87</text>
<text x="346" y="208">+0.018</text><text x="346" y="221">−0.020</text>
<text x="508" y="363">+0.55</text><text x="508" y="376">−0.38</text>
<text x="660" y="518">+0.052</text><text x="660" y="531">−0.029</text>
<text x="816" y="673">+0.043</text><text x="816" y="686">−0.053</text>
<text x="978" y="828">+0.39</text><text x="978" y="841">−0.54</text>
<text x="1129" y="983">+0.052</text><text x="1129" y="996">−0.029</text>
<text x="1285" y="1138">+0.044</text><text x="1285" y="1151">−0.054</text>
<text x="1447" y="1293">+2.42</text><text x="1447" y="1306">−1.39</text></g>
<g fill="#8b0000"><text x="198" y="78">+1.32</text><text x="198" y="91">−0.99</text>
<text x="346" y="233">+0.023</text><text x="346" y="246">−0.025</text>
<text x="508" y="388">+0.56</text><text x="508" y="401">−0.48</text>
<text x="660" y="543">+0.036</text><text x="660" y="556">−0.024</text>
<text x="816" y="698">+0.038</text><text x="816" y="711">−0.044</text>
<text x="978" y="853">+0.48</text><text x="978" y="866">−0.55</text>
<text x="1129" y="1008">+0.037</text><text x="1129" y="1021">−0.024</text>
<text x="1285" y="1163">+0.040</text><text x="1285" y="1176">−0.045</text>
<text x="1447" y="1318">+1.30</text><text x="1447" y="1331">−0.64</text></g>
</g>

<g font-size="20" text-anchor="end" fill="#111">
<text x="66" y="288">0.30</text><text x="66" y="330">0.25</text><text x="66" y="373">0.20</text>
<text x="66" y="470">2</text><text x="66" y="519">1</text>
<text x="66" y="600">0.4</text><text x="66" y="631">0.3</text><text x="66" y="662">0.2</text><text x="66" y="693">0.1</text>
<text x="66" y="764">6.1</text><text x="66" y="802">6.0</text><text x="66" y="840">5.9</text>
<text x="66" y="939">2</text><text x="66" y="991">1</text>
<text x="66" y="1066">0.4</text><text x="66" y="1097">0.3</text><text x="66" y="1128">0.2</text><text x="66" y="1159">0.1</text>
<text x="66" y="1229">6.1</text><text x="66" y="1268">6.0</text><text x="66" y="1307">5.9</text>
<text x="66" y="1377">8</text><text x="66" y="1408">6</text><text x="66" y="1439">4</text><text x="66" y="1470">2</text>
</g>
<g font-size="20" text-anchor="middle" fill="#111">
<text transform="translate(25,323) rotate(-90)"><tspan font-style="italic">M</tspan>/<tspan font-style="italic">R</tspan><tspan font-size="13" dy="4">eq</tspan></text>
<text transform="translate(48,485) rotate(-90)">Θ<tspan font-size="13" dy="4" font-style="italic">p</tspan><tspan dy="-4"> [rad]</tspan></text>
<text transform="translate(28,640) rotate(-90)"><tspan font-style="italic">ζ</tspan><tspan font-size="13" dy="4" font-style="italic">p</tspan><tspan dy="-4"> [rad]</tspan></text>
<text transform="translate(27,780) rotate(-90)">log10(<tspan font-style="italic">T</tspan><tspan font-size="13" dy="4" font-style="italic">p</tspan><tspan dy="-4"> [K])</tspan></text>
<text transform="translate(50,950) rotate(-90)">Θ<tspan font-size="13" dy="4" font-style="italic">s</tspan><tspan dy="-4"> [rad]</tspan></text>
<text transform="translate(28,1105) rotate(-90)"><tspan font-style="italic">ζ</tspan><tspan font-size="13" dy="4" font-style="italic">s</tspan><tspan dy="-4"> [rad]</tspan></text>
<text transform="translate(27,1255) rotate(-90)">log10(<tspan font-style="italic">T</tspan><tspan font-size="13" dy="4" font-style="italic">s</tspan><tspan dy="-4"> [K])</tspan></text>
<text transform="translate(48,1420) rotate(-90)"><tspan font-style="italic">N</tspan><tspan font-size="13" dy="4">H</tspan><tspan dy="-4"> [10</tspan><tspan font-size="13" dy="-8">20</tspan><tspan dy="8"> cm</tspan><tspan font-size="13" dy="-8">−2</tspan><tspan dy="8">]</tspan></text>
</g>
<g font-size="20" text-anchor="end" fill="#111">
<text transform="translate(112,1512) rotate(-45)">10</text>
<text transform="translate(152,1512) rotate(-45)">12</text>
<text transform="translate(194,1512) rotate(-45)">14</text>
<text transform="translate(283,1512) rotate(-45)">0.20</text>
<text transform="translate(328,1512) rotate(-45)">0.25</text>
<text transform="translate(370,1512) rotate(-45)">0.30</text>
<text transform="translate(437,1508) rotate(-45)">1</text>
<text transform="translate(489,1508) rotate(-45)">2</text>
<text transform="translate(582,1517) rotate(-45)">0.1</text>
<text transform="translate(613,1517) rotate(-45)">0.2</text>
<text transform="translate(644,1517) rotate(-45)">0.3</text>
<text transform="translate(675,1517) rotate(-45)">0.4</text>
<text transform="translate(745,1517) rotate(-45)">5.9</text>
<text transform="translate(786,1517) rotate(-45)">6.0</text>
<text transform="translate(826,1517) rotate(-45)">6.1</text>
<text transform="translate(898,1508) rotate(-45)">1</text>
<text transform="translate(951,1508) rotate(-45)">2</text>
<text transform="translate(1056,1517) rotate(-45)">0.1</text>
<text transform="translate(1087,1517) rotate(-45)">0.2</text>
<text transform="translate(1118,1517) rotate(-45)">0.3</text>
<text transform="translate(1148,1517) rotate(-45)">0.4</text>
<text transform="translate(1205,1517) rotate(-45)">5.9</text>
<text transform="translate(1246,1517) rotate(-45)">6.0</text>
<text transform="translate(1286,1517) rotate(-45)">6.1</text>
<text transform="translate(1341,1508) rotate(-45)">1</text>
<text transform="translate(1405,1508) rotate(-45)">5</text>
<text transform="translate(1467,1508) rotate(-45)">9</text>
</g>
<g font-size="20" text-anchor="middle" fill="#111">
<text x="148" y="1551"><tspan font-style="italic">R</tspan><tspan font-size="13" dy="4">eq</tspan><tspan dy="-4"> [km]</tspan></text>
<text x="305" y="1562"><tspan font-style="italic">M</tspan>/<tspan font-style="italic">R</tspan><tspan font-size="13" dy="4">eq</tspan></text>
<text x="458" y="1540">Θ<tspan font-size="13" dy="4" font-style="italic">p</tspan><tspan dy="-4"> [rad]</tspan></text>
<text x="612" y="1553"><tspan font-style="italic">ζ</tspan><tspan font-size="13" dy="4" font-style="italic">p</tspan><tspan dy="-4"> [rad]</tspan></text>
<text x="772" y="1553">log10(<tspan font-style="italic">T</tspan><tspan font-size="13" dy="4" font-style="italic">p</tspan><tspan dy="-4"> [K])</tspan></text>
<text x="927" y="1540">Θ<tspan font-size="13" dy="4" font-style="italic">s</tspan><tspan dy="-4"> [rad]</tspan></text>
<text x="1079" y="1553"><tspan font-style="italic">ζ</tspan><tspan font-size="13" dy="4" font-style="italic">s</tspan><tspan dy="-4"> [rad]</tspan></text>
<text x="1245" y="1553">log10(<tspan font-style="italic">T</tspan><tspan font-size="13" dy="4" font-style="italic">s</tspan><tspan dy="-4"> [K])</tspan></text>
<text x="1398" y="1540"><tspan font-style="italic">N</tspan><tspan font-size="13" dy="4">H</tspan><tspan dy="-4"> [10</tspan><tspan font-size="13" dy="-8">20</tspan><tspan dy="8"> cm</tspan><tspan font-size="13" dy="-8">−2</tspan><tspan dy="8">]</tspan></text>
</g>
<line x1="1017" y1="285" x2="1065" y2="285" stroke="#ff8c00" stroke-width="1.8"/>
<line x1="1017" y1="319" x2="1065" y2="319" stroke="#0a0a8c" stroke-width="1.8"/>
<line x1="1017" y1="353" x2="1065" y2="353" stroke="#8b0000" stroke-width="1.8"/>
<g font-size="24.5" fill="#111">
<text x="1082" y="293">NICERxXMM synt3</text>
<text x="1082" y="327">NICERxXMM synt2</text>
<text x="1082" y="361">NICERxXMM synt1</text>
</g>
</svg>
</body></html>
